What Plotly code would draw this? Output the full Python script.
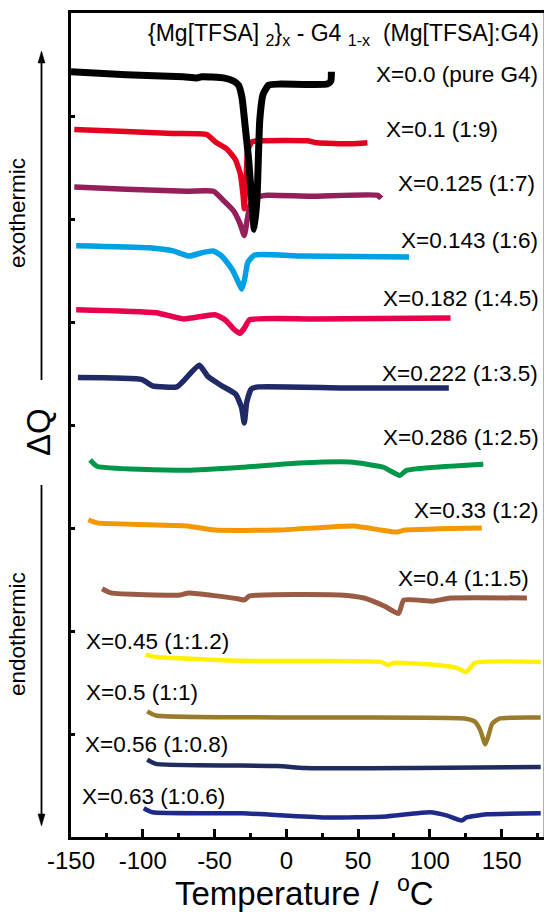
import plotly.graph_objects as go

# Sample compositions {Mg[TFSA]2}x - G4(1-x), with Mg:G4 ratio
labels = ["X=0.0 (pure G4)", "X=0.1 (1:9)", "X=0.125 (1:7)", "X=0.143 (1:6)",
          "X=0.182 (1:4.5)", "X=0.222 (1:3.5)", "X=0.286 (1:2.5)", "X=0.33 (1:2)",
          "X=0.4 (1:1.5)", "X=0.45 (1:1.2)", "X=0.5 (1:1)", "X=0.56 (1:0.8)",
          "X=0.63 (1:0.6)"]

# DSC traces: temperature (°C) and vertically offset heat flow (arb. units)
t_000 = [-150, -111.5, -71.8, -62.4, -58.9, -43.8, -36.8, -33.3, -30.9, -28.6, -26.2,
         -23.9, -22.3, -20.4, -18.5, -16.2, -12.2, -4.1, 28.6, 31.0, 31.4]
q_000 = [7.43, 7.40, 7.38, 7.37, 7.38, 7.37, 7.34, 7.30, 7.18, 6.89, 6.57,
         6.14, 5.90, 6.21, 6.96, 7.21, 7.30, 7.31, 7.31, 7.34, 7.43]

t_100 = [-147.7, -111.5, -78.8, -55.4, -49.6, -41.4, -35.6, -32.1, -30.2, -29.3, -27.9,
         -26.9, -23.9, -18.1, 14.6, 21.6, 45.0, 56.5]
q_100 = [6.87, 6.85, 6.83, 6.82, 6.75, 6.68, 6.58, 6.44, 6.24, 6.10, 6.44,
         6.66, 6.75, 6.76, 6.76, 6.74, 6.73, 6.74]

t_125 = [-147.7, -111.5, -69.4, -50.8, -43.8, -36.8, -32.1, -29.3, -27.4, -25.1, -20.4,
         -13.4, 16.9, 63.7, 66.1]
q_125 = [6.31, 6.29, 6.27, 6.27, 6.18, 6.08, 5.95, 5.84, 5.98, 6.14, 6.21,
         6.23, 6.22, 6.23, 6.20]

t_143 = [-146.4, -95.7, -78.8, -67.9, -59.4, -51.0, -45.0, -37.7, -32.9, -31.0, -29.0,
         -26.8, -22.0, 10.6, 85.5]
q_143 = [5.74, 5.72, 5.69, 5.64, 5.67, 5.69, 5.64, 5.51, 5.37, 5.32, 5.42,
         5.58, 5.65, 5.64, 5.63]

t_182 = [-146.4, -90.8, -71.5, -49.8, -42.5, -36.5, -32.4, -29.2, -25.6, 17.8, 114.4]
q_182 = [5.12, 5.09, 5.03, 5.07, 5.02, 4.93, 4.89, 4.94, 5.02, 5.03, 5.04]

t_222 = [-145.2, -100.5, -93.2, -76.3, -71.5, -60.6, -54.6, -44.9, -35.3, -31.2, -29.3,
         -27.6, -24.4, -19.6, 42.0, 113.2]
q_222 = [4.46, 4.44, 4.38, 4.37, 4.43, 4.58, 4.47, 4.38, 4.30, 4.17, 4.02,
         4.22, 4.35, 4.37, 4.36, 4.36]

t_286 = [-136.7, -131.9, -69.1, -29.3, 9.3, 44.2, 67.4, 79.1, 83.7, 137.2]
q_286 = [3.66, 3.60, 3.56, 3.59, 3.63, 3.64, 3.59, 3.51, 3.56, 3.62]

t_330 = [-137.9, -131.9, -69.1, -49.8, -6.3, 46.8, 66.1, 76.7, 83.0, 136.2]
q_330 = [3.08, 3.05, 3.02, 2.98, 2.98, 3.02, 2.98, 2.96, 2.98, 3.00]

t_400 = [-128.3, -122.2, -73.9, -67.9, -32.9, -29.3, -25.6, 37.2, 54.1, 68.5, 78.2,
         81.8, 102.3, 114.4, 167.6]
q_400 = [2.41, 2.37, 2.35, 2.37, 2.31, 2.30, 2.34, 2.35, 2.32, 2.24, 2.17,
         2.30, 2.29, 2.32, 2.32]

t_450 = [-98.1, -92.0, -30.5, 66.1, 70.9, 74.6, 104.8, 119.3, 125.3, 131.3, 177.2]
q_450 = [1.77, 1.75, 1.71, 1.70, 1.67, 1.69, 1.67, 1.64, 1.60, 1.69, 1.70]

t_500 = [-96.9, -90.8, 17.8, 124.1, 131.3, 135.0, 137.4, 138.6, 140.5, 143.4, 148.3, 177.2]
q_500 = [1.22, 1.18, 1.16, 1.15, 1.12, 1.04, 0.94, 0.90, 0.97, 1.10, 1.15, 1.16]

t_560 = [-96.9, -90.8, -6.3, 13.0, 90.3, 177.2]
q_560 = [0.75, 0.71, 0.69, 0.67, 0.67, 0.68]

t_630 = [-99.3, -93.2, -30.5, 26.7, 69.8, 100.0, 111.6, 122.1, 125.6, 139.6, 177.2]
q_630 = [0.28, 0.24, 0.23, 0.19, 0.20, 0.24, 0.21, 0.16, 0.19, 0.22, 0.23]

temps = [t_000, t_100, t_125, t_143, t_182, t_222, t_286, t_330, t_400, t_450, t_500, t_560, t_630]
flows = [q_000, q_100, q_125, q_143, q_182, q_222, q_286, q_330, q_400, q_450, q_500, q_560, q_630]

# Axis ticks
x_major = [-150, -100, -50, 0, 50, 100, 150]
x_minor = [-125, -75, -25, 25, 75, 125, 175]
y_ticks = [1, 2, 3, 4, 5, 6, 7]

# ---- styling ----
colors = ["#000000", "#e60020", "#951f5b", "#00a0e4", "#e8004f", "#1f2a66", "#00974a",
          "#f39800", "#9a5b45", "#fff100", "#9a7b2a", "#1f2c5e", "#1d2a8a"]
widths = [7, 5.5, 5.5, 5.5, 5.5, 5.5, 5, 5, 5, 4.5, 4.5, 4.5, 4.5]

W, H = 544, 914
ML, MR, MT, MB = 71, 0, 13, 77
PW, PH = W - ML - MR, H - MT - MB
FONT = "Liberation Sans, Arial, sans-serif"


def px_x(p):
    return (p - ML) / PW


def px_y(p):
    return (H - MB - p) / PH


# label anchors in paper fractions: (x, y, horizontal anchor)
label_pos = [(px_x(540), px_y(74), "right"), (px_x(500), px_y(129), "right"),
             (px_x(537), px_y(183), "right"), (px_x(540), px_y(240), "right"),
             (px_x(541), px_y(298), "right"), (px_x(540), px_y(373), "right"),
             (px_x(541), px_y(437), "right"), (px_x(540), px_y(510), "right"),
             (px_x(531), px_y(578), "right"), (px_x(84), px_y(641), "left"),
             (px_x(84), px_y(692), "left"), (px_x(83), px_y(744), "left"),
             (px_x(80), px_y(796), "left")]

fig = go.Figure()

# draw bottom traces first so the black G4 trace sits on top
for t, q, c, w in reversed(list(zip(temps, flows, colors, widths))):
    fig.add_trace(go.Scatter(x=t, y=q, mode="lines",
                             line=dict(color=c, width=w, shape="spline", smoothing=0.5),
                             showlegend=False, hoverinfo="skip"))

annotations = []
for text, (lx, ly, anc) in zip(labels, label_pos):
    annotations.append(dict(x=lx, y=ly, xref="paper", yref="paper", text=text,
                            showarrow=False, xanchor=anc, yanchor="middle",
                            font=dict(family=FONT, size=22.5, color="black")))

annotations.append(dict(x=px_x(541), y=px_y(34), xref="paper", yref="paper",
                        text="{Mg[TFSA] <sub>2</sub>}<sub>x</sub> - G4 <sub>1-x</sub>  (Mg[TFSA]:G4)",
                        showarrow=False, xanchor="right", yanchor="middle",
                        font=dict(family=FONT, size=23, color="black")))

annotations.append(dict(x=13, y=px_y(891), xref="x", yref="paper",
                        text="Temperature /  <sup>o</sup>C", showarrow=False,
                        xanchor="center", yanchor="middle",
                        font=dict(family=FONT, size=33, color="black")))

annotations.append(dict(x=px_x(38), y=px_y(432), xref="paper", yref="paper",
                        text="ΔQ", textangle=-90, showarrow=False,
                        xanchor="center", yanchor="middle",
                        font=dict(family=FONT, size=33, color="black")))
annotations.append(dict(x=px_x(17), y=px_y(213), xref="paper", yref="paper",
                        text="exothermic", textangle=-90, showarrow=False,
                        xanchor="center", yanchor="middle",
                        font=dict(family=FONT, size=22.5, color="black")))
annotations.append(dict(x=px_x(17), y=px_y(634), xref="paper", yref="paper",
                        text="endothermic", textangle=-90, showarrow=False,
                        xanchor="center", yanchor="middle",
                        font=dict(family=FONT, size=22.5, color="black")))

# exo / endo arrows drawn as a shaft plus a filled head
AX = 41.5
shapes = []
for tip, tail, base in [(51, 380, 63), (826, 485, 814)]:
    shapes.append(dict(type="line", xref="paper", yref="paper",
                       x0=px_x(AX), x1=px_x(AX), y0=px_y(tail), y1=px_y(base),
                       line=dict(color="black", width=1.8)))
    shapes.append(dict(type="path", xref="paper", yref="paper",
                       path=(f"M {px_x(AX)},{px_y(tip)} L {px_x(AX - 3.5)},{px_y(base)} "
                             f"L {px_x(AX + 3.5)},{px_y(base)} Z"),
                       fillcolor="black", line=dict(color="black", width=0.5)))

# faint right-hand frame edge
shapes.append(dict(type="line", xref="paper", yref="paper", x0=1, x1=1, y0=0, y1=1,
                   line=dict(color="#b0b0b0", width=2)))

fig.update_layout(
    width=W, height=H,
    margin=dict(l=ML, r=MR, t=MT, b=MB),
    paper_bgcolor="white", plot_bgcolor="white",
    annotations=annotations,
    shapes=shapes,
)

fig.update_xaxes(
    range=[-150, 179.5], showgrid=False, zeroline=False,
    showline=True, linecolor="black", linewidth=3, mirror=True,
    tickmode="array", tickvals=x_major, ticktext=[str(v) for v in x_major],
    ticks="inside", ticklen=8, tickwidth=3, tickcolor="black",
    tickfont=dict(family=FONT, size=24, color="black"),
    minor=dict(tickmode="array", tickvals=x_minor, ticks="inside", ticklen=4,
               tickwidth=3, tickcolor="black", showgrid=False),
)
fig.update_yaxes(
    range=[0, 8], showgrid=False, zeroline=False,
    showline=True, linecolor="black", linewidth=3,
    tickmode="array", tickvals=y_ticks, ticks="inside", ticklen=4, tickwidth=3,
    tickcolor="black", showticklabels=False,
)

fig.write_html("out.html")
